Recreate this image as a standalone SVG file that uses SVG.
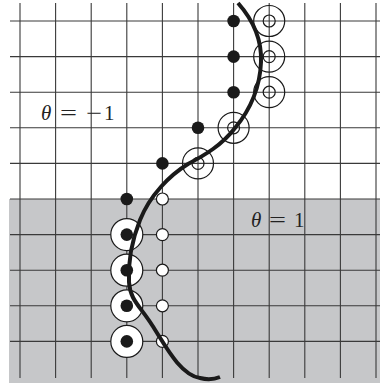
<svg xmlns="http://www.w3.org/2000/svg" width="380" height="385" viewBox="0 0 380 385">
<style>
.g{stroke:#3a3a3a;stroke-width:1.1}
.f{fill:#1a1a1a}
.o{fill:none;stroke:#1a1a1a;stroke-width:1.2}
.w{fill:#fff;stroke:#1a1a1a;stroke-width:1.2}
.t{font-family:"Liberation Serif",serif;font-size:21px;fill:#222}
.i{font-style:italic}
</style>
<rect x="9" y="199" width="371" height="184" fill="#c6c7c9"/>
<g id="grid">
<path class="g" d="M20 3V378M55.6 3V378M91.2 3V378M126.8 3V378M162.4 3V378M198 3V378M233.6 3V378M269.2 3V378M304.8 3V378M340.4 3V378M376 3V378"/>
<path class="g" d="M10 21H380M10 56.6H380M10 92.2H380M10 127.8H380M10 163.4H380M10 199H380M10 234.6H380M10 270.2H380M10 305.8H380M10 341.4H380"/>
</g>
<g id="bigcircles">
<circle class="w" cx="126.8" cy="234.6" r="16"/>
<circle class="w" cx="126.8" cy="270.2" r="16"/>
<circle class="w" cx="126.8" cy="305.8" r="16"/>
<circle class="w" cx="126.8" cy="341.4" r="16"/>
</g>
<g id="filled">
<circle class="f" cx="233.6" cy="21" r="6.3"/>
<circle class="f" cx="233.6" cy="56.6" r="6.3"/>
<circle class="f" cx="233.6" cy="92.2" r="6.3"/>
<circle class="f" cx="198" cy="127.8" r="6.3"/>
<circle class="f" cx="162.4" cy="163.4" r="6.3"/>
<circle class="f" cx="126.8" cy="199" r="6.3"/>
<circle class="f" cx="126.8" cy="234.6" r="6.3"/>
<circle class="f" cx="126.8" cy="270.2" r="6.3"/>
<circle class="f" cx="126.8" cy="305.8" r="6.3"/>
<circle class="f" cx="126.8" cy="341.4" r="6.3"/>
</g>
<g id="smallopen">
<circle class="w" cx="162.4" cy="199" r="6"/>
<circle class="w" cx="162.4" cy="234.6" r="6"/>
<circle class="w" cx="162.4" cy="270.2" r="6"/>
<circle class="w" cx="162.4" cy="305.8" r="6"/>
<circle class="w" cx="162.4" cy="341.4" r="6"/>
</g>
<g id="doubleopen">
<circle class="o" cx="269.2" cy="21" r="15.5"/><circle class="o" cx="269.2" cy="21" r="6"/>
<circle class="o" cx="269.2" cy="56.6" r="15.5"/><circle class="o" cx="269.2" cy="56.6" r="6"/>
<circle class="o" cx="269.2" cy="92.2" r="15.5"/><circle class="o" cx="269.2" cy="92.2" r="6"/>
<circle class="o" cx="233.6" cy="127.8" r="15.5"/><circle class="o" cx="233.6" cy="127.8" r="6"/>
<circle class="o" cx="198" cy="163.4" r="15.5"/><circle class="o" cx="198" cy="163.4" r="6"/>
</g>
<g id="curve">
<path d="M238 3C253 20 262 40 261 62C260 88 250 110 235 128C222 145 205 155 188 164C170 175 150 195 140 220C132 240 128 262 129 282C130 300 140 306 152 325C165 345 180 375 200 378C208 380 215 379 220 377" fill="none" stroke="#1a1a1a" stroke-width="4" stroke-linecap="butt"/>
</g>
<g id="labels">
<text class="t" y="120"><tspan class="i" x="41">θ</tspan><tspan x="60" textLength="17" lengthAdjust="spacingAndGlyphs">=</tspan><tspan x="86" textLength="16" lengthAdjust="spacingAndGlyphs">−</tspan><tspan x="104">1</tspan></text>
<text class="t" y="227"><tspan class="i" x="251">θ</tspan><tspan x="269" textLength="17" lengthAdjust="spacingAndGlyphs">=</tspan><tspan x="294">1</tspan></text>
</g>
</svg>
